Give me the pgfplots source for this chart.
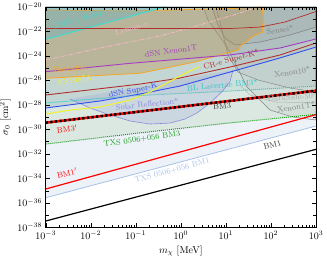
\documentclass[border=0pt]{standalone}
\usepackage{pgfplots}
\pgfplotsset{compat=1.18}
\definecolor{cmbc}{HTML}{3EDCCF}
\definecolor{lyac}{HTML}{F2B8C2}
\definecolor{orc}{HTML}{F5A623}
\definecolor{purc}{HTML}{A43CC4}
\definecolor{drc}{HTML}{B22E2E}
\definecolor{bluc}{HTML}{2F4EF0}
\definecolor{yelc}{HTML}{F2F22A}
\definecolor{blc}{HTML}{2EC6C6}
\definecolor{solc}{HTML}{8A8ADC}
\definecolor{grc}{HTML}{858585}
\definecolor{gnc}{HTML}{1A9E1A}
\definecolor{lbc}{HTML}{A8C0E8}
\definecolor{bandA}{HTML}{EDF1F8}
\definecolor{bandB}{HTML}{DAE8E1}
\definecolor{bandC}{HTML}{CEE0DB}
\definecolor{bandD}{HTML}{C4D6D3}
\definecolor{bandE}{HTML}{B9CACA}
\tikzset{lab/.style={font=\fontsize{8}{9}\selectfont, inner sep=0pt}}
\begin{document}
\begin{tikzpicture}
\begin{axis}[
  scale only axis, width=270.3pt, height=220.7pt,
  xmode=log, ymode=log, xmin=1e-3, xmax=1e3, ymin=1e-38, ymax=1e-20,
  ytick={1e-38,1e-36,1e-34,1e-32,1e-30,1e-28,1e-26,1e-24,1e-22,1e-20},
  minor ytick={1e-37,1e-35,1e-33,1e-31,1e-29,1e-27,1e-25,1e-23,1e-21},
  xlabel={$m_\chi$ [MeV]}, ylabel={$\sigma_0$ [cm$^2$]},
  axis on top, tick style={black},
  every axis plot/.append style={line join=round},
]
% ---- bands ----
\addplot[draw=none, fill=bandA] coordinates {(1e-3,2.63e-36) (1e3,1.86e-30) (1e3,1e-20) (1e-3,1e-20)} -- cycle;
\addplot[draw=none, fill=bandB] coordinates {(1e-3,6.31e-32) (0.1,4.68e-31) (10,3.09e-30) (1e3,1.66e-29) (1e3,1e-20) (1e-3,1e-20)} -- cycle;
\addplot[draw=none, fill=bandC] coordinates {(1e-3,1.41e-28) (0.0743,5.25e-28) (12.3,1.32e-27) (1e3,3.39e-27) (1e3,1e-20) (1e-3,1e-20)} -- cycle;
\addplot[draw=none, fill=bandD] coordinates {(1e-3,5.5e-29) (0.016,2.04e-28) (0.124,7.59e-28) (0.957,3.39e-27) (12.3,4.68e-26) (158,6.61e-25) (1e3,5.13e-24) (1e3,1e-20) (1e-3,1e-20)} -- cycle;
\addplot[draw=none, fill=bandE] coordinates {(1e-3,5.01e-26) (0.0743,2.40e-25) (12.3,1.15e-24) (158,4.27e-24) (1e3,2.34e-23) (1e3,1e-20) (1e-3,1e-20)} -- cycle;
% ---- solar reflection ----
\addplot[draw=solc, fill=solc, fill opacity=0.18, line width=0.6pt] coordinates {(3.46e-3,2.95e-28) (9.62e-3,5.50e-29) (2.67e-2,1.48e-29) (7.43e-2,4.79e-30) (0.2065,2.69e-30) (0.574,3.24e-30) (1.236,6.92e-30) (2.28,2.14e-29) (4.44,1.38e-28) (8.18,1.17e-27) (12.3,7.59e-27) (14.4,6.92e-26)};
% ---- gray direct detection ----
\addplot[draw=grc, fill=grc, fill opacity=0.08, line width=0.5pt] coordinates {(3.10,1e-20) (4.01,8.32e-22) (10.6,5.13e-24) (29.4,2.82e-27) (95.3,3.72e-29) (309,1.0e-29) (1e3,5.75e-30) (1e3,1e-20)};
\addplot[draw=grc, fill=grc, fill opacity=0.08, line width=0.5pt] coordinates {(6.03,1e-20) (8.18,1.26e-22) (11.1,1.15e-24) (18.6,4.68e-26) (51.6,1.05e-26) (263,2.34e-27) (1e3,1.10e-27) (1e3,1e-20)};
\addplot[draw=grc, fill=grc, fill opacity=0.10, line width=0.6pt] coordinates {(4.9,1e-20) (6.68,3.24e-22) (9.55,2.82e-23) (15.9,7.59e-24) (57.1,1.32e-23) (263,4.9e-23) (1e3,2.19e-22) (1e3,1e-20)};
\addplot[draw=grc!60, line width=0.5pt] coordinates {(20.6,4.07e-27) (34.3,6.31e-28) (123,1.70e-28) (1e3,1.41e-28)};
% ---- orange region ----
\addplot[draw=orc, fill={rgb,255:red,185;green,145;blue,70}, fill opacity=0.36, line width=0.8pt] coordinates {(1e-3,5.37e-21) (7.43e-2,4.47e-21) (12.3,7.08e-21) (63.2,9.55e-21) (66,3e-21) (70.2,8.32e-22) (64,3e-22) (66.7,8.71e-23) (45,5e-23) (34.3,2.82e-23) (30,1.6e-23) (25.2,1.10e-23) (21,6e-24) (18.6,2.95e-24) (9.55,1.51e-24) (2.06,3.09e-25) (0.124,3.72e-26) (1e-3,1.45e-26)} -- cycle;
% ---- CMB region ----
\addplot[draw=none, fill={rgb,255:red,90;green,175;blue,195}, fill opacity=0.35] coordinates {(1e-3,2.19e-23) (0.457,1e-20) (1e-3,1e-20)} -- cycle;
% ---- lines ----
\addplot[cmbc, line width=1pt] coordinates {(1e-3,2.19e-23) (0.457,1e-20)};
\addplot[lyac, line width=0.9pt, dash pattern=on 4pt off 1.5pt on 1pt off 1.5pt] coordinates {(1e-3,4.47e-25) (0.016,4.27e-24) (0.344,4.07e-23) (2.66,3.24e-22) (20.6,3.09e-21) (51.6,1e-20)};
\addplot[drc, line width=0.7pt] coordinates {(1e-3,1.66e-22) (12.3,1.66e-22) (57.1,2.19e-22) (205,5.62e-22) (1e3,4.07e-21)};
\addplot[purc, line width=0.9pt] coordinates {(1e-3,5.01e-26) (0.0743,2.40e-25) (12.3,1.15e-24) (158,4.27e-24) (1e3,2.34e-23)};
\addplot[drc, line width=0.9pt] coordinates {(1e-3,6.31e-28) (0.124,4.90e-27) (0.957,1.51e-26) (12.3,1.20e-25) (158,1.15e-24) (1e3,1.10e-23)};
\addplot[bluc, line width=0.9pt] coordinates {(1e-3,5.5e-29) (0.016,2.04e-28) (0.124,7.59e-28) (0.957,3.39e-27) (12.3,4.68e-26) (158,6.61e-25) (1e3,5.13e-24)};
\addplot[yelc, line width=1pt] coordinates {(1e-3,1.78e-29) (3.46e-3,3.72e-29) (1.60e-2,6.61e-29) (7.43e-2,2.45e-28) (0.2065,1.10e-27) (0.445,4.90e-27) (0.957,2.24e-26) (1.60,5.75e-26) (2.66,1.32e-25)};
\addplot[blc, line width=1pt, densely dotted] coordinates {(1e-3,1.41e-28) (0.0743,5.25e-28) (12.3,1.32e-27) (1e3,3.39e-27)};
\addplot[red, line width=2.5pt] coordinates {(1e-3,3.47e-30) (1e3,1.41e-27)};
\addplot[black, line width=2.5pt, dash pattern=on 2.3pt off 2.3pt] coordinates {(1e-3,3.47e-30) (1e3,1.41e-27)};
\addplot[gnc, line width=1pt, densely dotted] coordinates {(1e-3,6.31e-32) (0.1,4.68e-31) (10,3.09e-30) (1e3,1.66e-29)};
\addplot[red, line width=1.2pt] coordinates {(1e-3,1.35e-35) (1e3,1.58e-29)};
\addplot[lbc, line width=0.8pt] coordinates {(1e-3,2.63e-36) (1e3,1.86e-30)};
\addplot[black, line width=1.2pt] coordinates {(1e-3,3.31e-38) (1e3,2.34e-32)};
% ---- labels ----
\node[lab, cmbc, rotate=16] at (axis cs:4.98e-3,8.3e-22) {CMB + BAO};
\node[lab, lyac, rotate=15] at (axis cs:8.24e-2,1.5e-22) {Lyman-$\alpha$};
\node[lab, purc, rotate=8] at (axis cs:0.603,2.45e-24) {dSN Xenon1T};
\node[lab, grc, rotate=8] at (axis cs:158,1.26e-22) {Sensei*};
\node[lab, orc, rotate=5] at (axis cs:3.47e-3,9.1e-26) {Borexino};
\node[lab, yelc, rotate=9] at (axis cs:4.47e-3,1.05e-26) {SN1987A};
\node[lab, bluc, rotate=12] at (axis cs:8.7e-2,1.4e-27) {dSN Super-K};
\node[lab, drc, rotate=16] at (axis cs:13.1,4.5e-25) {CR-e Super-K*};
\node[lab, grc, rotate=9] at (axis cs:295,4.7e-26) {Xenon10*};
\node[lab, blc, rotate=5] at (axis cs:8.28,4.07e-27) {BL Lacertae BM3*};
\node[lab, solc, rotate=6] at (axis cs:0.178,1.15e-28) {Solar Reflection*};
\node[lab, grc!70, rotate=4] at (axis cs:300,4.3e-28) {DarkSide-50*};
\node[lab, grc, rotate=9] at (axis cs:363,6.6e-29) {Xenon1T*};
\node[lab, black!80, rotate=7] at (axis cs:8.2,7.9e-29) {BM3};
\node[lab, red, rotate=7] at (axis cs:2.98e-3,1.1e-30) {BM3$'$};
\node[lab, gnc, rotate=8] at (axis cs:0.137,1.6e-31) {TXS 0506+056 BM3};
\node[lab, red, rotate=15] at (axis cs:2.98e-3,2.7e-34) {BM1$'$};
\node[lab, lbc, rotate=15] at (axis cs:0.637,4.5e-34) {TXS 0506+056 BM1};
\node[lab, black!80, rotate=15] at (axis cs:107,5.25e-32) {BM1};
\end{axis}
\pgfresetboundingbox
\path[use as bounding box] (-45.7pt,-30.6pt) rectangle (281.3pt,227.4pt);
\end{tikzpicture}
\end{document}
